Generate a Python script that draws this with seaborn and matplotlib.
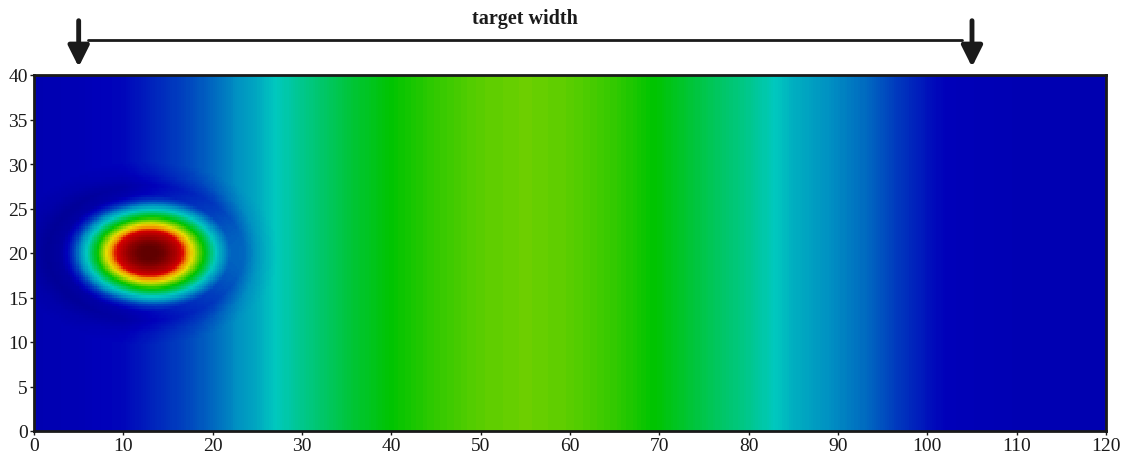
import numpy as np
import matplotlib
matplotlib.use('Agg')
import matplotlib.pyplot as plt
from matplotlib.colors import LinearSegmentedColormap
import seaborn as sns

# background band: level read across x (constant in y)
band_x = [0, 5, 7, 10, 15, 20, 25, 27, 30, 35, 40, 45, 50, 55, 60,
          65, 70, 75, 80, 83, 85, 90, 93, 95, 100, 102, 110, 120]
band_level = [0.08, 0.09, 0.10, 0.11, 0.18, 0.245, 0.33, 0.38, 0.42, 0.48, 0.53, 0.56, 0.585, 0.595, 0.585,
              0.56, 0.525, 0.47, 0.42, 0.38, 0.34, 0.28, 0.25, 0.22, 0.13, 0.10, 0.085, 0.08]

# source blob: radial profile (added to the band), read along its long axis
blob_x, blob_y = 12.5, 20.0
blob_aspect = 1.45
blob_r = [0, 1, 2, 3.4, 4.5, 5.6, 6.9, 8.1, 8.7, 9.5, 11, 13, 15]
blob_excess = [0.86, 0.85, 0.80, 0.68, 0.55, 0.41, 0.25, 0.10, 0.03, -0.04, -0.06, -0.02, 0.0]

target_left, target_right = 5, 105
x_ticks = list(range(0, 121, 10))
y_ticks = list(range(0, 41, 5))

cmap_pos = [0.0, 0.10, 0.20, 0.29, 0.38, 0.53, 0.67, 0.74, 0.80, 1.0]
cmap_colors = ['#00008C', '#0000BA', '#0040BE', '#0090C2', '#00C8BE', '#00C400',
               '#E6DC00', '#F09000', '#D80000', '#600000']
cmap = LinearSegmentedColormap.from_list('field', list(zip(cmap_pos, cmap_colors)))

cell = 0.25
xc = np.arange(0, 120, cell) + cell / 2
yc = np.arange(0, 40, cell) + cell / 2
X, Y = np.meshgrid(xc, yc)
band = np.interp(xc, band_x, band_level)
R = np.sqrt((X - blob_x) ** 2 + ((Y - blob_y) * blob_aspect) ** 2)
field = np.clip(band[None, :] + np.interp(R, blob_r, blob_excess), 0, 1)

sns.set_theme(style='ticks')
plt.rcParams['font.family'] = ['Liberation Serif', 'DejaVu Serif']

fig = plt.figure(figsize=(11.24, 4.56), dpi=100)
ax = fig.add_axes([34 / 1124, 24 / 456, 1072 / 1124, 356 / 456])
sns.heatmap(field, ax=ax, cmap=cmap, vmin=0, vmax=1, cbar=False,
            xticklabels=False, yticklabels=False, rasterized=True)
ax.invert_yaxis()

ax.set_xticks([t / cell for t in x_ticks])
ax.set_xticklabels([str(t) for t in x_ticks])
ax.set_yticks([t / cell for t in y_ticks])
ax.set_yticklabels([str(t) for t in y_ticks], rotation=0)
ax.tick_params(length=3, width=1, color='k', labelsize=14, pad=1.5, labelcolor='#1a1a1a')
for s in ax.spines.values():
    s.set_visible(True)
    s.set_color('k')
    s.set_linewidth(2)

# target width annotation
for tx in (target_left, target_right):
    ax.annotate('', xy=(tx / cell, 40.9 / cell), xytext=(tx / cell, 46.1 / cell),
                arrowprops=dict(arrowstyle='-|>,head_length=0.6,head_width=0.3',
                                lw=3.5, color='k', mutation_scale=21,
                                shrinkA=0, shrinkB=0),
                annotation_clip=False)
ax.plot([6.0 / cell, 103.9 / cell], [43.9 / cell, 43.9 / cell], color='k', lw=2, clip_on=False)
ax.text((target_left + target_right) / 2 / cell, 46.4 / cell, 'target width',
        ha='center', va='center', fontsize=14.5, fontweight='bold', color='#1a1a1a')

fig.savefig('out.png', dpi=100)
